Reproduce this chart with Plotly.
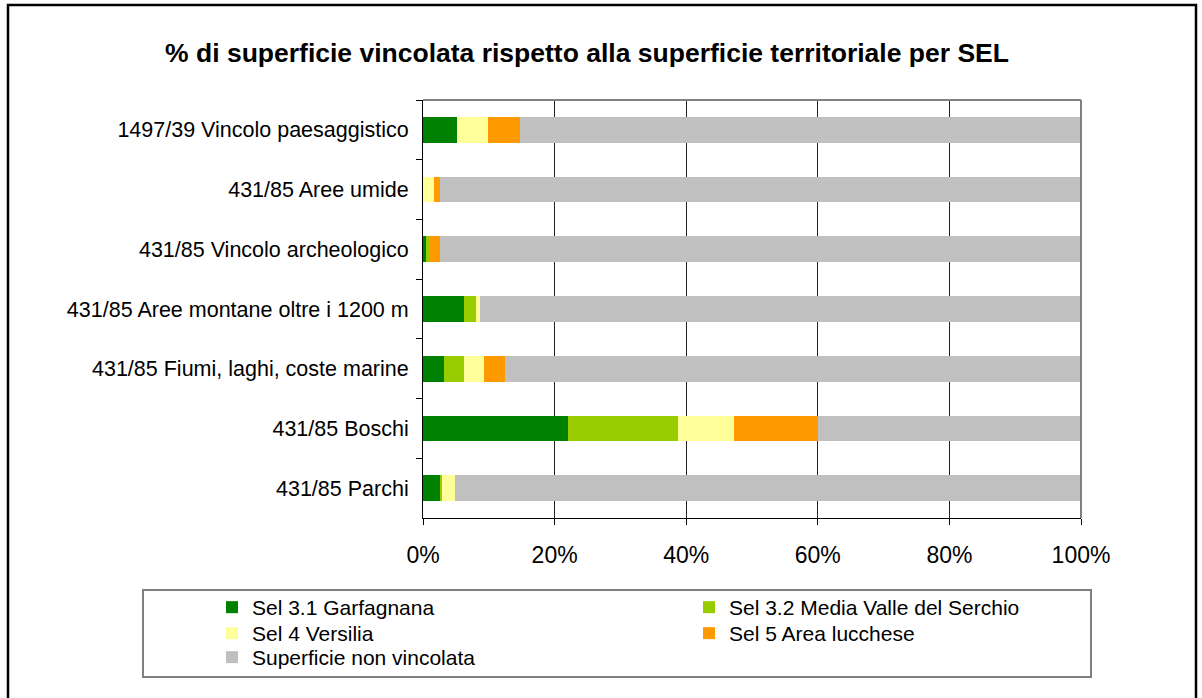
import plotly.graph_objects as go

categories = [
    "1497/39 Vincolo paesaggistico",
    "431/85 Aree umide",
    "431/85 Vincolo archeologico",
    "431/85 Aree montane oltre i 1200 m",
    "431/85 Fiumi, laghi, coste marine",
    "431/85 Boschi",
    "431/85 Parchi",
]
sel31_garfagnana = [5.1, 0.0, 0.5, 6.3, 3.25, 22.1, 2.65]
sel32_media_valle = [0.0, 0.0, 0.6, 1.8, 3.05, 16.6, 0.3]
sel4_versilia = [4.8, 1.6, 0.0, 0.6, 3.0, 8.5, 1.85]
sel5_lucchese = [4.9, 1.05, 1.55, 0.0, 3.1, 12.9, 0.0]
non_vincolata = [100 - a - b - c - d for a, b, c, d in
                 zip(sel31_garfagnana, sel32_media_valle, sel4_versilia, sel5_lucchese)]

series = [
    ("Sel 3.1 Garfagnana", sel31_garfagnana, "#008000", "legend"),
    ("Sel 3.2 Media Valle del Serchio", sel32_media_valle, "#99CC00", "legend"),
    ("Sel 4 Versilia", sel4_versilia, "#FFFF99", "legend2"),
    ("Sel 5 Area lucchese", sel5_lucchese, "#FF9900", "legend2"),
    ("Superficie non vincolata", non_vincolata, "#C0C0C0", "legend3"),
]
x_ticks = [0, 20, 40, 60, 80, 100]
x_tick_labels = ["0%", "20%", "40%", "60%", "80%", "100%"]

fig = go.Figure()
for name, vals, color, leg in series:
    fig.add_trace(go.Bar(
        y=categories, x=vals, name=name, orientation="h", legend=leg,
        marker=dict(color=color, line=dict(width=0)),
    ))

W, H = 1202, 698
L, R, T, B = 423, 1081, 100, 518
FONT = "Liberation Sans, Arial, sans-serif"

def px_x(p):
    return (p - L) / (R - L)

def px_y(p):
    return (B - p) / (B - T)

def legend_row(top_px):
    return dict(
        orientation="h", xref="paper", yref="paper",
        x=px_x(212), xanchor="left", y=px_y(top_px), yanchor="top",
        entrywidth=432, entrywidthmode="pixels",
        font=dict(size=21, family=FONT, color="black"), traceorder="normal",
        itemwidth=30, bgcolor="rgba(0,0,0,0)", tracegroupgap=0,
    )

fig.update_layout(
    width=W, height=H,
    barmode="stack", bargap=0.57,
    plot_bgcolor="white", paper_bgcolor="white",
    margin=dict(l=L, r=W - R, t=T, b=H - B, autoexpand=False),
    font=dict(family=FONT, size=21, color="black"),
    title=dict(
        text="<b>% di superficie vincolata rispetto alla superficie territoriale per SEL</b>",
        font=dict(size=26.5, family=FONT, color="black"),
        x=587 / W, xanchor="center", xref="container",
        y=1 - 53 / H, yanchor="middle", yref="container",
    ),
    xaxis=dict(
        range=[0, 100], tickvals=x_ticks, ticktext=x_tick_labels,
        showgrid=True, gridcolor="#222222", gridwidth=1,
        showline=True, linecolor="black", linewidth=1,
        ticks="outside", ticklen=6, tickcolor="black",
        tickfont=dict(size=23), zeroline=False, fixedrange=True,
        ticklabelstandoff=10,
    ),
    yaxis=dict(
        autorange="reversed", showline=True, linecolor="black", linewidth=1,
        ticks="outside", ticklen=6, tickcolor="black", tickson="boundaries",
        ticklabelstandoff=9, showgrid=False, tickfont=dict(size=21.5),
        fixedrange=True,
    ),
    showlegend=True,
    legend=legend_row(587),
    legend2=legend_row(613),
    legend3=legend_row(637),
    shapes=[
        dict(type="line", xref="paper", yref="paper", x0=0, x1=1, y0=1, y1=1,
             line=dict(color="#808080", width=2)),
        dict(type="line", xref="paper", yref="paper", x0=1, x1=1, y0=0, y1=1,
             line=dict(color="#808080", width=2)),
        dict(type="rect", xref="paper", yref="paper",
             x0=px_x(143), x1=px_x(1091), y0=px_y(677), y1=px_y(590),
             line=dict(color="#808080", width=2), layer="below"),
        dict(type="rect", xref="paper", yref="paper",
             x0=px_x(8), x1=px_x(1196), y0=px_y(712), y1=px_y(5),
             line=dict(color="black", width=2.5), layer="below"),
    ],
)

fig.write_html("out.html", config={"displayModeBar": False},
               post_script="document.body.style.margin='0';")
